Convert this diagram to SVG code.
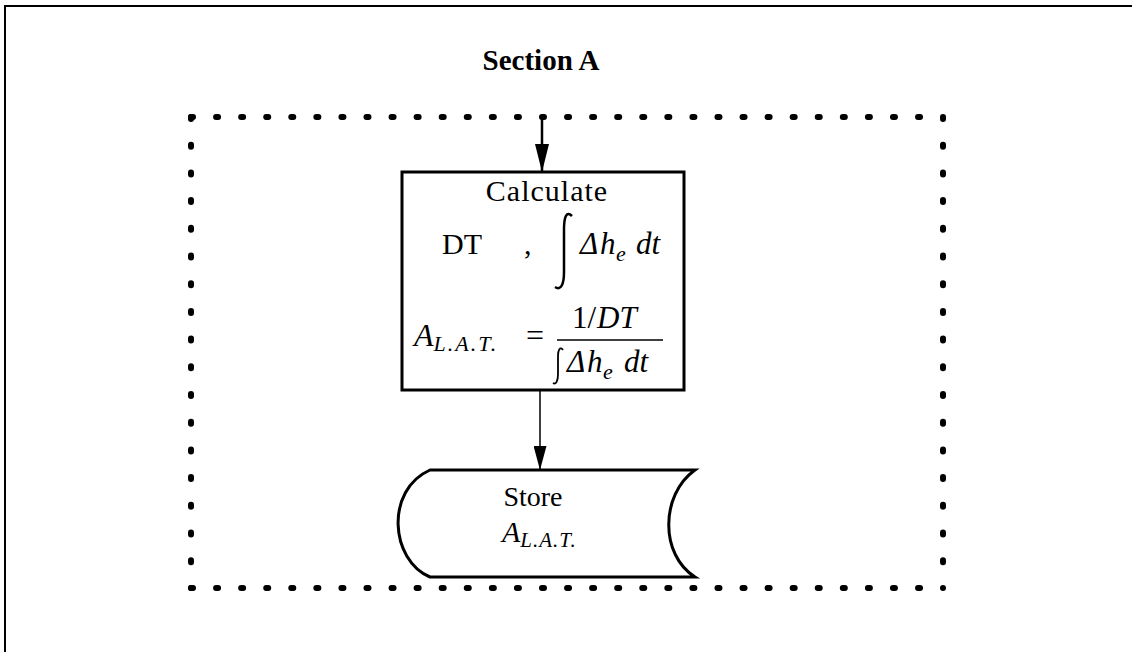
<svg xmlns="http://www.w3.org/2000/svg" width="1132" height="652" viewBox="0 0 1132 652">
<defs>
<style>
.t{font-family:"Liberation Serif","Times New Roman",serif;fill:#000}
.i{font-style:italic}
.b{font-weight:bold}
.dot{stroke:#000;stroke-width:6;stroke-linecap:round;fill:none}
.ln{stroke:#000;fill:none}
</style>
<marker id="ah" markerWidth="28" markerHeight="14" refX="28" refY="7" orient="auto" markerUnits="userSpaceOnUse" viewBox="0 0 28 14">
<path d="M0,0 L28,7 L0,14 Z" fill="#000"/>
</marker>
<marker id="ah2" markerWidth="24" markerHeight="13" refX="24" refY="6.5" orient="auto" markerUnits="userSpaceOnUse" viewBox="0 0 24 13">
<path d="M0,0 L24,6.5 L0,13 Z" fill="#000"/>
</marker>
</defs>
<rect width="1132" height="652" fill="#fff"/>
<path class="ln" d="M5,652 L5,6 L1132,6" stroke-width="2"/>
<text class="t b" x="541" y="70" font-size="29" text-anchor="middle">Section A</text>
<g id="section">
<line class="dot" x1="191" y1="117" x2="943" y2="117" stroke-dasharray="2 23.07"/>
<line class="dot" x1="191" y1="588" x2="943" y2="588" stroke-dasharray="2 23.07"/>
<line class="dot" x1="191" y1="117" x2="191" y2="588" stroke-dasharray="2 25.7"/>
<line class="dot" x1="943" y1="117" x2="943" y2="588" stroke-dasharray="2 25.7"/>
</g>
<g id="connectors">
<line class="ln" x1="542" y1="115" x2="542" y2="172" stroke-width="2.5" marker-end="url(#ah)"/>
<line class="ln" x1="540" y1="390" x2="540" y2="470" stroke-width="1.5" marker-end="url(#ah2)"/>
</g>
<g id="calc">
<rect x="402" y="172" width="282" height="218" fill="#fff" stroke="#000" stroke-width="3"/>
<text class="t" x="547" y="201" font-size="30" text-anchor="middle" letter-spacing="1">Calculate</text>
<text class="t" x="442" y="254" font-size="30">DT</text>
<text class="t" x="524" y="254" font-size="30">,</text>
<path class="ln" d="M572,216 C566,210 564,218 564,230 L564,272 C564,284 561,291 555,287" stroke-width="2.5"/>
<text class="t i" y="254" font-size="31"><tspan x="580">Δ</tspan><tspan x="600">h</tspan><tspan x="616" font-size="22" dy="7">e</tspan><tspan x="636" dy="-7">dt</tspan></text>
<text class="t i" x="414" y="346" font-size="32">A<tspan font-size="22" dy="5" letter-spacing="2">L.A.T.</tspan></text>
<text class="t" x="526" y="346" font-size="32">=</text>
<text class="t" y="328" font-size="31"><tspan x="572">1/</tspan><tspan class="i" x="597">DT</tspan></text>
<line class="ln" x1="557" y1="340" x2="663" y2="340" stroke-width="1.5"/>
<path class="ln" d="M563,350 C560,346 558,350 558,356 L558,374 C558,381 556,385 553,383" stroke-width="1.8"/>
<text class="t i" y="372" font-size="31"><tspan x="567">Δ</tspan><tspan x="587">h</tspan><tspan x="603" font-size="22" dy="7">e</tspan><tspan x="624" dy="-7">dt</tspan></text>
</g>
<g id="store">
<path d="M430,470 L695,470 C660,495 660,555 695,577 L430,577 C390,560 385,490 430,470 Z" fill="#fff" stroke="#000" stroke-width="3"/>
<text class="t" x="533" y="506" font-size="28" text-anchor="middle">Store</text>
<text class="t i" x="502" y="542" font-size="30">A<tspan font-size="21" dy="5" letter-spacing="1">L.A.T.</tspan></text>
</g>
</svg>
